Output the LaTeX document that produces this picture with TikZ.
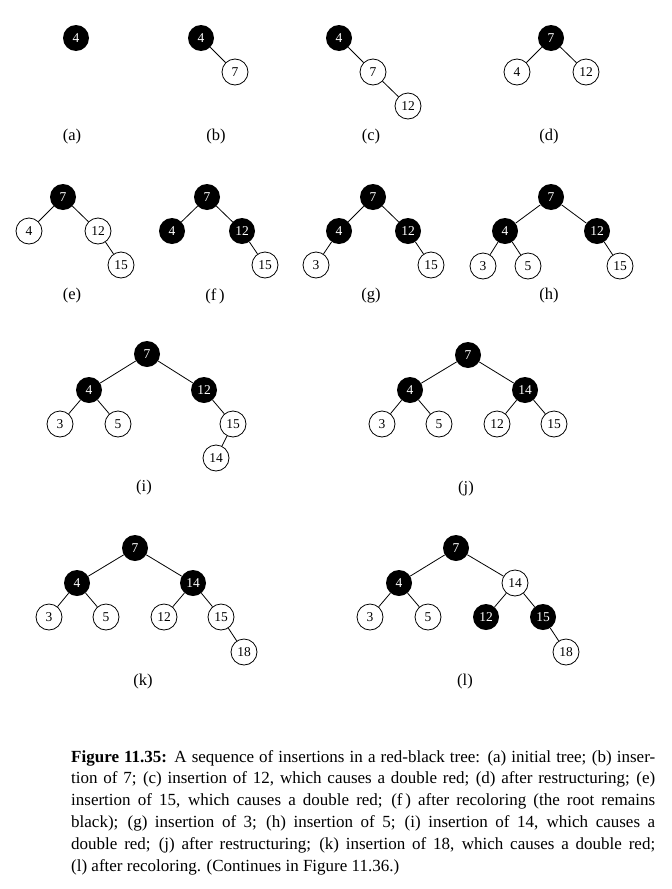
\documentclass[tikz,border=0pt]{standalone}
\usepackage{fontspec}
\setmainfont{Liberation Serif}

\newcommand{\capfont}{\fontsize{17pt}{21.8pt}\selectfont}
\newcommand{\capline}[1]{\makebox[584pt][s]{#1}}

\tikzset{
  blk/.style={circle, fill=black, text=white, minimum size=26pt, inner sep=0pt, font=\fontsize{13.5}{13.5}\selectfont},
  wht/.style={circle, draw=black, fill=white, minimum size=26pt, inner sep=0pt, line width=0.8pt, font=\fontsize{13.5}{13.5}\selectfont},
  lnk/.style={draw=black, line width=0.8pt},
  sublabel/.style={font=\fontsize{16.5}{16.5}\selectfont},
  capt/.style={align=left, inner sep=0pt, font=\capfont}
}

\begin{document}
\begin{tikzpicture}[x=1pt,y=-1pt]

    \useasboundingbox (0,0) rectangle (672,889);

    % (a) initial tree
    \node[blk] (a4) at (76,38) {4};
    \node[sublabel] (alab) at (72,137) {(a)};

    % (b) insertion of 7
    \node[blk] (b4) at (201,38) {4};
    \node[wht] (b7) at (235,72) {7};
    \draw[lnk] (b4) -- (b7);
    \node[sublabel] (blab) at (216,137) {(b)};

    % (c) insertion of 12
    \node[blk] (c4) at (339,38) {4};
    \node[wht] (c7) at (373,72) {7};
    \node[wht] (c12) at (408,106) {12};
    \draw[lnk] (c4) -- (c7);
    \draw[lnk] (c7) -- (c12);
    \node[sublabel] (clab) at (371,137) {(c)};

    % (d) after restructuring
    \node[blk] (d7) at (551,38) {7};
    \node[wht] (d4) at (517,72) {4};
    \node[wht] (d12) at (586,72) {12};
    \draw[lnk] (d7) -- (d4);
    \draw[lnk] (d7) -- (d12);
    \node[sublabel] (dlab) at (549,137) {(d)};

    % (e) insertion of 15
    \node[blk] (e7) at (63,197) {7};
    \node[wht] (e4) at (29,231) {4};
    \node[wht] (e12) at (98,231) {12};
    \node[wht] (e15) at (121,265) {15};
    \draw[lnk] (e7) -- (e4);
    \draw[lnk] (e7) -- (e12);
    \draw[lnk] (e12) -- (e15);
    \node[sublabel] (elab) at (72,296) {(e)};

    % (f) after recoloring
    \node[blk] (f7) at (207,197) {7};
    \node[blk] (f4) at (172,231) {4};
    \node[blk] (f12) at (242,231) {12};
    \node[wht] (f15) at (265,265) {15};
    \draw[lnk] (f7) -- (f4);
    \draw[lnk] (f7) -- (f12);
    \draw[lnk] (f12) -- (f15);
    \node[sublabel] (flab) at (215,296) {(f\,)};

    % (g) insertion of 3
    \node[blk] (g7) at (373,197) {7};
    \node[blk] (g4) at (339,231) {4};
    \node[blk] (g12) at (408,231) {12};
    \node[wht] (g3) at (316,265) {3};
    \node[wht] (g15) at (431,265) {15};
    \draw[lnk] (g7) -- (g4);
    \draw[lnk] (g7) -- (g12);
    \draw[lnk] (g4) -- (g3);
    \draw[lnk] (g12) -- (g15);
    \node[sublabel] (glab) at (371,296) {(g)};

    % (h) insertion of 5
    \node[blk] (h7) at (551,197) {7};
    \node[blk] (h4) at (505,231) {4};
    \node[blk] (h12) at (597,231) {12};
    \node[wht] (h3) at (483,266) {3};
    \node[wht] (h5) at (528,266) {5};
    \node[wht] (h15) at (620,266) {15};
    \draw[lnk] (h7) -- (h4);
    \draw[lnk] (h7) -- (h12);
    \draw[lnk] (h4) -- (h3);
    \draw[lnk] (h4) -- (h5);
    \draw[lnk] (h12) -- (h15);
    \node[sublabel] (hlab) at (549,296) {(h)};

    % (i) insertion of 14
    \node[blk] (i7) at (147,354) {7};
    \node[blk] (i4) at (89,390) {4};
    \node[blk] (i12) at (204,390) {12};
    \node[wht] (i3) at (60,424) {3};
    \node[wht] (i5) at (118,424) {5};
    \node[wht] (i15) at (233,424) {15};
    \node[wht] (i14) at (216,458) {14};
    \draw[lnk] (i7) -- (i4);
    \draw[lnk] (i7) -- (i12);
    \draw[lnk] (i4) -- (i3);
    \draw[lnk] (i4) -- (i5);
    \draw[lnk] (i12) -- (i15);
    \draw[lnk] (i15) -- (i14);
    \node[sublabel] (ilab) at (144,488) {(i)};

    % (j) after restructuring
    \node[blk] (j7) at (468,355) {7};
    \node[blk] (j4) at (410,390) {4};
    \node[blk] (j14) at (525,390) {14};
    \node[wht] (j3) at (382,424) {3};
    \node[wht] (j5) at (439,424) {5};
    \node[wht] (j12) at (497,424) {12};
    \node[wht] (j15) at (554,424) {15};
    \draw[lnk] (j7) -- (j4);
    \draw[lnk] (j7) -- (j14);
    \draw[lnk] (j4) -- (j3);
    \draw[lnk] (j4) -- (j5);
    \draw[lnk] (j14) -- (j12);
    \draw[lnk] (j14) -- (j15);
    \node[sublabel] (jlab) at (466,489) {(j)};

    % (k) insertion of 18
    \node[blk] (k7) at (135,548) {7};
    \node[blk] (k4) at (77,583) {4};
    \node[blk] (k14) at (193,583) {14};
    \node[wht] (k3) at (49,617) {3};
    \node[wht] (k5) at (106,617) {5};
    \node[wht] (k12) at (164,617) {12};
    \node[wht] (k15) at (221,617) {15};
    \node[wht] (k18) at (244,652) {18};
    \draw[lnk] (k7) -- (k4);
    \draw[lnk] (k7) -- (k14);
    \draw[lnk] (k4) -- (k3);
    \draw[lnk] (k4) -- (k5);
    \draw[lnk] (k14) -- (k12);
    \draw[lnk] (k14) -- (k15);
    \draw[lnk] (k15) -- (k18);
    \node[sublabel] (klab) at (143,682) {(k)};

    % (l) after recoloring
    \node[blk] (l7) at (456,548) {7};
    \node[blk] (l4) at (399,583) {4};
    \node[wht] (l14) at (515,583) {14};
    \node[wht] (l3) at (370,617) {3};
    \node[wht] (l5) at (428,617) {5};
    \node[blk] (l12) at (486,617) {12};
    \node[blk] (l15) at (543,617) {15};
    \node[wht] (l18) at (566,652) {18};
    \draw[lnk] (l7) -- (l4);
    \draw[lnk] (l7) -- (l14);
    \draw[lnk] (l4) -- (l3);
    \draw[lnk] (l4) -- (l5);
    \draw[lnk] (l14) -- (l12);
    \draw[lnk] (l14) -- (l15);
    \draw[lnk] (l15) -- (l18);
    \node[sublabel] (llab) at (465,682) {(l)};

    %% Caption
    \node[capt, anchor=north west] (cap) at (71,750) {%
      \capline{\textbf{Figure 11.35:} A sequence of insertions in a red-black tree: (a) initial tree; (b) inser-}\\
      \capline{tion of 7; (c) insertion of 12, which causes a double red; (d) after restructuring; (e)}\\
      \capline{insertion of 15, which causes a double red; (f\,) after recoloring (the root remains}\\
      \capline{black); (g) insertion of 3; (h) insertion of 5; (i) insertion of 14, which causes a}\\
      \capline{double red; (j) after restructuring; (k) insertion of 18, which causes a double red;}\\
      (l) after recoloring. (Continues in Figure 11.36.)};

\end{tikzpicture}
\end{document}
